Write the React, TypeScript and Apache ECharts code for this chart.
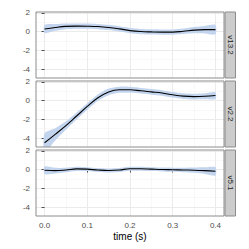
import React, { useEffect, useRef } from "react";
import * as echarts from "echarts";

const time = [0, 0.025, 0.05, 0.075, 0.1, 0.125, 0.15, 0.175, 0.2, 0.225, 0.25, 0.275, 0.3, 0.325, 0.35, 0.375, 0.4];
const panelNames = ["v13.2", "v2.2", "v5.1"];

const fitV13 = [0.27, 0.43, 0.55, 0.58, 0.57, 0.53, 0.43, 0.28, 0.1, 0.0, -0.04, -0.06, -0.06, 0.03, 0.15, 0.2, 0.2];
const seV13 = [0.43, 0.36, 0.3, 0.28, 0.28, 0.28, 0.28, 0.28, 0.28, 0.28, 0.28, 0.28, 0.28, 0.3, 0.34, 0.4, 0.5];

const fitV2 = [-4.5, -3.6, -2.67, -1.65, -0.63, 0.3, 0.92, 1.15, 1.14, 1.04, 0.92, 0.8, 0.61, 0.47, 0.42, 0.45, 0.53];
const seV2 = [1.0, 0.65, 0.45, 0.38, 0.35, 0.35, 0.35, 0.33, 0.32, 0.3, 0.3, 0.3, 0.3, 0.3, 0.3, 0.32, 0.36];

const fitV5 = [-0.08, -0.12, -0.05, 0.07, 0.04, -0.05, -0.1, -0.05, 0.08, 0.08, 0.04, 0.0, -0.02, -0.05, -0.07, -0.12, -0.19];
const seV5 = [0.4, 0.3, 0.24, 0.22, 0.21, 0.21, 0.21, 0.21, 0.21, 0.21, 0.21, 0.21, 0.22, 0.24, 0.28, 0.35, 0.45];

const fits = [fitV13, fitV2, fitV5];
const ses = [seV13, seV2, seV5];

const xTicks = [0, 0.1, 0.2, 0.3, 0.4];
const xMinor = [0.05, 0.15, 0.25, 0.35];
const yTicks = [-4, -2, 0, 2];
const yMinor = [-3, -1, 1];

const FONT = "Liberation Sans, Arial, sans-serif";
const PANEL_TOPS = [12, 81, 150];
const PANEL_H = 66;
const LEFT = 36;
const WIDTH = 188;

export default function App() {
  const ref = useRef<HTMLDivElement>(null);
  useEffect(() => {
    if (!ref.current) return;
    const chart = echarts.init(ref.current, undefined, { renderer: "svg" });

    const grids: any[] = [];
    const xAxes: any[] = [];
    const yAxes: any[] = [];
    const series: any[] = [];
    const graphics: any[] = [];

    panelNames.forEach((name, i) => {
      const last = i === panelNames.length - 1;
      grids.push({
        left: LEFT,
        top: PANEL_TOPS[i],
        width: WIDTH,
        height: PANEL_H,
        show: true,
        borderColor: "#8c8c8c",
        borderWidth: 1,
        backgroundColor: "transparent",
        z: 4,
      });
      xAxes.push({
        type: "value",
        gridIndex: i,
        min: -0.02,
        max: 0.42,
        splitLine: { show: false },
        axisLine: { show: false },
        axisTick: {
          show: last,
          customValues: xTicks,
          length: 3,
          lineStyle: { color: "#4d4d4d" },
        },
        axisLabel: {
          show: last,
          customValues: xTicks,
          formatter: (v: number) => v.toFixed(1),
          fontSize: 8,
          color: "#4d4d4d",
          margin: 5,
          fontFamily: FONT,
        },
        name: last ? "time (s)" : "",
        nameLocation: "middle",
        nameGap: 15,
        nameTextStyle: { fontSize: 10, color: "#000", fontFamily: FONT },
      });
      yAxes.push({
        type: "value",
        gridIndex: i,
        min: -4.95,
        max: 2.08,
        splitLine: { show: false },
        axisLine: { show: false },
        axisTick: {
          show: true,
          customValues: yTicks,
          length: 3,
          lineStyle: { color: "#4d4d4d" },
        },
        axisLabel: {
          customValues: yTicks,
          formatter: (v: number) => String(v),
          fontSize: 8,
          color: "#4d4d4d",
          margin: 6,
          fontFamily: FONT,
        },
      });

      const gridLines: any[] = [];
      xMinor.forEach((v) => gridLines.push({ xAxis: v, lineStyle: { color: "#f4f4f4", width: 0.6, type: "solid" } }));
      yMinor.forEach((v) => gridLines.push({ yAxis: v, lineStyle: { color: "#f4f4f4", width: 0.6, type: "solid" } }));
      xTicks.forEach((v) => gridLines.push({ xAxis: v, lineStyle: { color: "#ebebeb", width: 1, type: "solid" } }));
      yTicks.forEach((v) => gridLines.push({ yAxis: v, lineStyle: { color: "#ebebeb", width: 1, type: "solid" } }));

      series.push({
        type: "line",
        xAxisIndex: i,
        yAxisIndex: i,
        data: [],
        z: 0,
        silent: true,
        markLine: {
          silent: true,
          z: 0,
          symbol: "none",
          label: { show: false },
          animation: false,
          lineStyle: { type: "solid" },
          data: gridLines,
        },
      });

      const fit = fits[i];
      const se = ses[i];
      const bandData = time.map((t, k) => [t, fit[k] - se[k], fit[k] + se[k]]);
      series.push({
        type: "custom",
        xAxisIndex: i,
        yAxisIndex: i,
        data: bandData,
        z: 2,
        silent: true,
        encode: { x: 0, y: [1, 2] },
        renderItem: (params: any, api: any) => {
          if (params.dataIndex !== 0) return null;
          const upper = bandData.map((d) => api.coord([d[0], d[2]]));
          const lower = bandData.map((d) => api.coord([d[0], d[1]])).reverse();
          const cs = params.coordSys;
          return {
            type: "group",
            children: [
              {
                type: "polygon",
                shape: { points: upper.concat(lower), smooth: 0.25 },
                style: { fill: "#c3d5ee", stroke: "none" },
              },
            ],
            clipPath: {
              type: "rect",
              shape: { x: cs.x, y: cs.y, width: cs.width, height: cs.height },
            },
          };
        },
      });
      series.push({
        type: "line",
        xAxisIndex: i,
        yAxisIndex: i,
        data: time.map((t, k) => [t, fit[k]]),
        smooth: 0.4,
        symbol: "none",
        lineStyle: { color: "#000000", width: 1.1 },
        z: 3,
        clip: true,
      });

      graphics.push({
        type: "rect",
        shape: { x: 225, y: PANEL_TOPS[i], width: 10.5, height: PANEL_H },
        style: { fill: "#cccccc", stroke: "#8c8c8c", lineWidth: 1 },
      });
      graphics.push({
        type: "text",
        x: 230.5,
        y: PANEL_TOPS[i] + PANEL_H / 2,
        rotation: -Math.PI / 2,
        style: {
          text: name,
          fontSize: 8,
          fill: "#1a1a1a",
          fontFamily: FONT,
          align: "center",
          verticalAlign: "middle",
        },
      });
    });

    chart.setOption({
      animation: false,
      textStyle: { fontFamily: FONT },
      grid: grids,
      xAxis: xAxes,
      yAxis: yAxes,
      series,
      graphic: graphics,
    });
    return () => chart.dispose();
  }, []);
  return (
    <div
      ref={ref}
      style={{ position: "fixed", left: 0, top: 0, width: 249, height: 249, background: "#fff" }}
    />
  );
}
